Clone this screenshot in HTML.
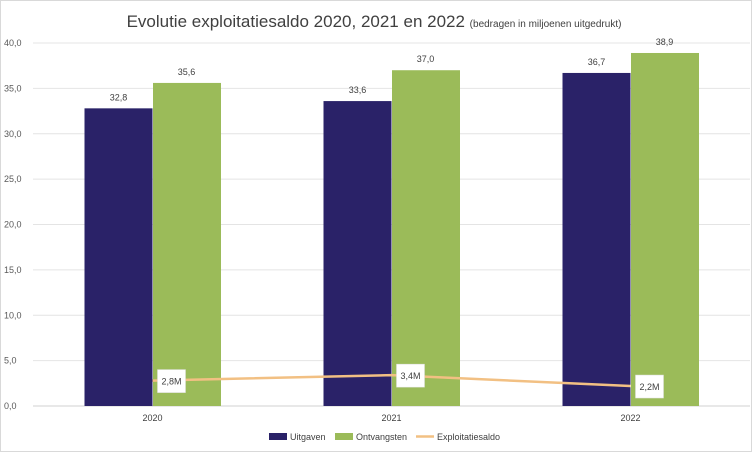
<!DOCTYPE html>
<html><head><meta charset="utf-8"><style>
body{margin:0;background:#fff;}
svg{display:block;font-family:"Liberation Sans",sans-serif;}
</style></head><body>
<svg id="chart" width="752" height="452" viewBox="0 0 752 452">
<rect x="0.5" y="0.5" width="751" height="451" fill="#fff" stroke="#d9d9d9"/>
<text x="374" y="27" text-anchor="middle" font-size="17" fill="#404040">Evolutie exploitatiesaldo 2020, 2021 en 2022 <tspan font-size="10">(bedragen in miljoenen uitgedrukt)</tspan></text>
<g id="grid"></g><g id="bars"></g><g id="line"></g><g id="labels"></g>
<g>
<rect x="269" y="433" width="18" height="7" fill="#2a2268"/>
<text x="290" y="440" font-size="9" fill="#404040">Uitgaven</text>
<rect x="335" y="433" width="18" height="7" fill="#9bbb59"/>
<text x="356" y="440" font-size="9" fill="#404040">Ontvangsten</text>
<line x1="416" y1="436.5" x2="434" y2="436.5" stroke="#f2c083" stroke-width="2.5"/>
<text x="437" y="440" font-size="9" fill="#404040">Exploitatiesaldo</text>
</g>
</svg>
<script>
const categories=["2020","2021","2022"];
const uitgaven=[32.8,33.6,36.7];
const ontvangsten=[35.6,37.0,38.9];
const saldo=[2.8,3.4,2.2];
const ticks=[0,5,10,15,20,25,30,35,40];
const NS="http://www.w3.org/2000/svg";
const x0=33,x1=750,yb=406,yt=43,ymax=40;
const y=v=>yb-(v/ymax)*(yb-yt);
const cw=(x1-x0)/categories.length;
const cx=i=>x0+cw*(i+0.5);
const fmt=v=>v.toFixed(1).replace('.',',');
function mk(tag,attrs,parent,txt){const e=document.createElementNS(NS,tag);for(const k in attrs)e.setAttribute(k,attrs[k]);if(txt!=null)e.textContent=txt;document.getElementById(parent).appendChild(e);return e;}
ticks.forEach(t=>{
 const l=mk('line',{x1:x0,x2:x1,y1:y(t),y2:y(t),stroke:t===0?'#d0d0d0':'#e4e4e4','stroke-width':1},'grid');
 
 
 const tx=mk('text',{x:4,y:y(t)+3,'font-size':9,fill:'#595959'},'grid',fmt(t));
 
 
});
const bw=68;
categories.forEach((c,i)=>{
 const b1=mk('rect',{x:cx(i)-bw,y:y(uitgaven[i]),width:bw,height:yb-y(uitgaven[i]),fill:'#2a2268'},'bars');
 
 
 const b2=mk('rect',{x:cx(i)+0.5,y:y(ontvangsten[i]),width:bw,height:yb-y(ontvangsten[i]),fill:'#9bbb59'},'bars');
 
 
 const l1=mk('text',{x:cx(i)-bw/2,y:y(uitgaven[i])-8,'font-size':9,fill:'#404040','text-anchor':'middle'},'labels',fmt(uitgaven[i]));
 
 
 const l2=mk('text',{x:cx(i)+bw/2,y:y(ontvangsten[i])-8,'font-size':9,fill:'#404040','text-anchor':'middle'},'labels',fmt(ontvangsten[i]));
 
 
 const xl=mk('text',{x:cx(i),y:421,'font-size':9,fill:'#404040','text-anchor':'middle'},'labels',c);
 
 
});
const pts=categories.map((c,i)=>cx(i)+','+y(saldo[i])).join(' ');
const pl=mk('polyline',{points:pts,fill:'none',stroke:'#f2c083','stroke-width':2.5},'line');


categories.forEach((c,i)=>{
 const px=cx(i)+5,py=y(saldo[i])-11;
 const bx=mk('rect',{x:px,y:py,width:28,height:23,fill:'#fff',stroke:'#e0e0e0','stroke-width':0.5},'labels');
 
 
 const t=mk('text',{x:px+14,y:py+15,'font-size':9,fill:'#404040','text-anchor':'middle'},'labels',fmt(saldo[i])+'M');
 
 
});
</script>
</body></html>
